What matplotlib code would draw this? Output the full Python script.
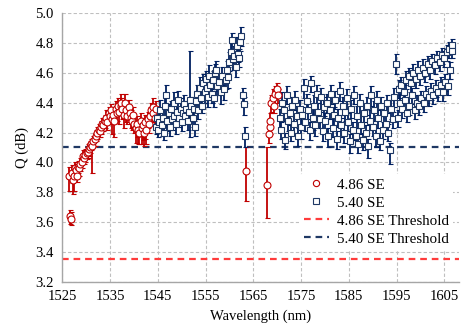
import matplotlib
matplotlib.use("Agg")
import matplotlib.pyplot as plt
from matplotlib.lines import Line2D

plt.rcParams['font.family'] = ['Liberation Serif', 'DejaVu Serif']

# ---- data: 4.86 SE (red) ----
red_wl = [1526.5, 1526.7, 1526.8, 1527.0, 1527.2, 1527.4, 1527.6, 1527.9, 1528.1, 1528.3,
          1528.6, 1528.8, 1529.1, 1529.3, 1529.6, 1529.8, 1530.1, 1530.3, 1530.6, 1530.8,
          1531.0, 1531.3, 1531.5, 1531.8, 1532.0, 1532.3, 1532.6, 1532.9, 1533.1, 1533.4,
          1533.6, 1533.9, 1534.2, 1534.4, 1534.7, 1534.9, 1535.2, 1535.4, 1535.7, 1535.9,
          1536.2, 1536.4, 1536.7, 1536.9, 1537.2, 1537.4, 1537.6, 1537.9, 1538.1, 1538.4,
          1538.6, 1538.9, 1539.1, 1539.4, 1539.6, 1539.9, 1540.1, 1540.4, 1540.6, 1540.9,
          1541.1, 1541.4, 1541.6, 1541.9, 1542.1, 1542.4, 1542.6, 1542.9, 1543.1, 1543.4,
          1543.6, 1543.9, 1544.1, 1544.4, 1544.6,
          1563.5, 1567.9, 1568.2, 1568.4, 1568.6, 1568.8, 1569.1, 1569.4, 1569.6, 1569.9, 1570.1]
red_q = [3.91, 3.64, 3.62, 3.93, 3.88, 3.91, 3.96, 3.95, 3.91, 3.97,
         3.96, 3.99, 4.00, 4.04, 4.03, 4.05, 4.06, 4.07, 4.09, 4.10,
         4.12, 4.11, 4.14, 4.16, 4.18, 4.20, 4.22, 4.21, 4.24, 4.26,
         4.25, 4.28, 4.30, 4.27, 4.33, 4.31, 4.35, 4.29, 4.32, 4.28,
         4.36, 4.33, 4.38, 4.34, 4.38, 4.40, 4.36, 4.32, 4.40, 4.35,
         4.31, 4.37, 4.33, 4.30, 4.28, 4.32, 4.26, 4.23, 4.26, 4.22,
         4.20, 4.28, 4.23, 4.25, 4.20, 4.27, 4.22, 4.29, 4.26, 4.31,
         4.35, 4.37, 4.33, 4.30, 4.36,
         3.94, 3.85, 4.19, 4.24, 4.28, 4.40, 4.43, 4.38, 4.46, 4.49, 4.45]
red_up = [0.06, 0.04, 0.05, 0.05, 0.06, 0.05, 0.04, 0.04, 0.05, 0.04,
          0.04, 0.04, 0.04, 0.04, 0.04, 0.04, 0.04, 0.05, 0.04, 0.04,
          0.04, 0.05, 0.04, 0.04, 0.04, 0.04, 0.04, 0.04, 0.04, 0.04,
          0.05, 0.04, 0.05, 0.04, 0.04, 0.04, 0.04, 0.05, 0.05, 0.05,
          0.05, 0.04, 0.05, 0.05, 0.05, 0.06, 0.05, 0.06, 0.06, 0.05,
          0.05, 0.05, 0.04, 0.05, 0.04, 0.05, 0.05, 0.05, 0.05, 0.06,
          0.07, 0.05, 0.06, 0.05, 0.06, 0.05, 0.05, 0.05, 0.06, 0.06,
          0.05, 0.06, 0.05, 0.05, 0.05,
          0.16, 0.25, 0.05, 0.05, 0.05, 0.05, 0.06, 0.05, 0.05, 0.04, 0.04]
red_dn = [0.10, 0.05, 0.04, 0.07, 0.09, 0.10, 0.05, 0.05, 0.04, 0.04,
          0.05, 0.05, 0.04, 0.04, 0.04, 0.05, 0.04, 0.04, 0.05, 0.04,
          0.04, 0.18, 0.04, 0.05, 0.04, 0.04, 0.05, 0.04, 0.05, 0.05,
          0.04, 0.05, 0.04, 0.05, 0.05, 0.05, 0.05, 0.10, 0.05, 0.11,
          0.04, 0.05, 0.06, 0.08, 0.05, 0.07, 0.07, 0.09, 0.06, 0.08,
          0.05, 0.06, 0.05, 0.07, 0.06, 0.07, 0.06, 0.10, 0.09, 0.10,
          0.08, 0.10, 0.11, 0.10, 0.09, 0.11, 0.10, 0.06, 0.06, 0.05,
          0.05, 0.05, 0.06, 0.06, 0.06,
          0.20, 0.22, 0.06, 0.05, 0.05, 0.06, 0.05, 0.05, 0.06, 0.05, 0.05]

# ---- data: 5.40 SE (blue) ----
blue_wl = [1544.6, 1544.8, 1545.0, 1545.3, 1545.5, 1545.8, 1546.0, 1546.3, 1546.5, 1546.8,
           1547.0, 1547.3, 1547.5, 1547.8, 1548.0, 1548.3, 1548.5, 1548.8, 1549.0, 1549.3,
           1549.5, 1549.8, 1550.0, 1550.3, 1550.5, 1550.8, 1551.0, 1551.3, 1551.5, 1551.8,
           1552.0, 1552.3, 1552.5, 1552.8, 1553.0, 1553.3, 1553.5, 1553.8, 1554.0, 1554.3,
           1554.5, 1554.8, 1555.0, 1555.3, 1555.5, 1555.8, 1556.0, 1556.3, 1556.5, 1556.8,
           1557.0, 1557.2, 1557.5, 1557.9, 1558.2, 1558.5, 1558.9, 1559.2, 1559.5, 1559.8,
           1560.0, 1560.3, 1560.5, 1560.8, 1561.0, 1561.3, 1561.6, 1561.8, 1562.0, 1562.2,
           1562.4, 1562.8, 1563.1, 1563.3,
           1570.5, 1570.8, 1571.1, 1571.4, 1571.7, 1572.0, 1572.3, 1572.6, 1572.9, 1573.2,
           1573.5, 1573.8, 1574.1, 1574.4, 1574.7, 1575.0, 1575.3, 1575.6, 1575.9, 1576.2,
           1576.5, 1576.8, 1577.1, 1577.4, 1577.7, 1578.0, 1578.3, 1578.6, 1578.9, 1579.2,
           1579.5, 1579.8, 1580.1, 1580.4, 1580.7, 1581.0, 1581.3, 1581.6, 1581.9, 1582.2,
           1582.5, 1582.8, 1583.1, 1583.4, 1583.7, 1584.0, 1584.3, 1584.6, 1584.9, 1585.2,
           1585.5, 1585.8, 1586.1, 1586.4, 1586.7, 1587.0, 1587.3, 1587.6, 1587.9, 1588.2,
           1588.5, 1588.8, 1589.1, 1589.4, 1589.7, 1590.0, 1590.3, 1590.6, 1590.9, 1591.2,
           1591.5, 1591.8, 1592.1, 1592.4, 1592.7, 1593.0, 1593.3, 1593.6, 1593.9, 1594.2,
           1594.5, 1594.8,
           1595.2, 1595.5, 1595.7, 1596.0, 1596.2, 1596.5, 1596.8, 1597.0, 1597.2, 1597.5,
           1597.7, 1598.0, 1598.2, 1598.5, 1598.8, 1599.0, 1599.2, 1599.5, 1599.7, 1600.0,
           1600.2, 1600.5, 1600.7, 1601.0, 1601.2, 1601.5, 1601.7, 1602.0, 1602.2, 1602.5,
           1602.7, 1603.0, 1603.2, 1603.5, 1603.7, 1604.0, 1604.2, 1604.5, 1604.7, 1605.0,
           1605.2, 1605.5, 1605.7, 1606.0, 1606.1, 1606.5, 1606.7]
blue_q = [4.24, 4.30, 4.22, 4.27, 4.35, 4.25, 4.30, 4.20, 4.38, 4.45,
          4.28, 4.33, 4.24, 4.36, 4.29, 4.40, 4.31, 4.26, 4.34, 4.42,
          4.30, 4.36, 4.27, 4.33, 4.39, 4.31, 4.36, 4.28, 4.34, 4.42,
          4.38, 4.30, 4.36, 4.24, 4.41, 4.46, 4.35, 4.50, 4.43, 4.38,
          4.53, 4.47, 4.56, 4.50, 4.44, 4.58, 4.52, 4.46, 4.55, 4.43,
          4.60, 4.62, 4.51, 4.54, 4.47, 4.58, 4.49, 4.55, 4.62, 4.57,
          4.67, 4.74, 4.82, 4.69, 4.71, 4.64, 4.78, 4.73, 4.70, 4.81,
          4.85, 4.45, 4.39, 4.18,
          4.30, 4.22, 4.40, 4.35, 4.15, 4.45, 4.28, 4.33, 4.20, 4.38,
          4.26, 4.42, 4.31, 4.18, 4.36, 4.24, 4.32, 4.50, 4.27, 4.41,
          4.35, 4.22, 4.53, 4.30, 4.38, 4.25, 4.46, 4.34, 4.29, 4.44,
          4.21, 4.37, 4.28, 4.40, 4.18, 4.35, 4.46, 4.23, 4.32, 4.42,
          4.16, 4.30, 4.48, 4.25, 4.38, 4.20, 4.34, 4.43, 4.27, 4.14,
          4.36, 4.22, 4.45, 4.18, 4.31, 4.12, 4.40, 4.25, 4.15, 4.33,
          4.20, 4.38, 4.11, 4.28, 4.45, 4.24, 4.35, 4.18, 4.42, 4.30,
          4.14, 4.38, 4.22, 4.33, 4.26, 4.40, 4.20, 4.08, 4.36, 4.29,
          4.44, 4.66,
          4.30, 4.49, 4.40, 4.52, 4.36, 4.47, 4.42, 4.55, 4.33, 4.58,
          4.38, 4.53, 4.45, 4.60, 4.35, 4.56, 4.40, 4.62, 4.38, 4.58,
          4.43, 4.63, 4.40, 4.60, 4.46, 4.66, 4.44, 4.62, 4.48, 4.68,
          4.45, 4.65, 4.50, 4.70, 4.47, 4.67, 4.52, 4.72, 4.47, 4.70,
          4.54, 4.74, 4.51, 4.76, 4.62, 4.79, 4.75]
blue_up = [0.05, 0.05, 0.05, 0.06, 0.07, 0.05, 0.06, 0.05, 0.06, 0.07,
           0.05, 0.06, 0.06, 0.05, 0.06, 0.07, 0.05, 0.06, 0.06, 0.06,
           0.05, 0.07, 0.06, 0.05, 0.06, 0.06, 0.05, 0.06, 0.06, 0.33,
           0.06, 0.07, 0.06, 0.05, 0.07, 0.06, 0.05, 0.07, 0.06, 0.05,
           0.06, 0.06, 0.05, 0.06, 0.05, 0.07, 0.06, 0.05, 0.06, 0.05,
           0.06, 0.06, 0.07, 0.05, 0.07, 0.06, 0.06, 0.06, 0.06, 0.07,
           0.07, 0.06, 0.05, 0.06, 0.07, 0.06, 0.06, 0.06, 0.06, 0.05,
           0.06, 0.05, 0.05, 0.06,
           0.06, 0.05, 0.07, 0.06, 0.05, 0.06, 0.07, 0.05, 0.06, 0.06,
           0.05, 0.06, 0.07, 0.05, 0.06, 0.06, 0.05, 0.06, 0.07, 0.05,
           0.06, 0.05, 0.05, 0.06, 0.07, 0.05, 0.06, 0.06, 0.05, 0.06,
           0.06, 0.07, 0.05, 0.06, 0.05, 0.06, 0.06, 0.07, 0.05, 0.06,
           0.05, 0.06, 0.06, 0.05, 0.06, 0.07, 0.05, 0.06, 0.06, 0.05,
           0.06, 0.05, 0.06, 0.05, 0.07, 0.05, 0.06, 0.06, 0.05, 0.06,
           0.05, 0.06, 0.05, 0.07, 0.06, 0.05, 0.06, 0.05, 0.06, 0.05,
           0.06, 0.06, 0.05, 0.06, 0.07, 0.05, 0.06, 0.05, 0.06, 0.05,
           0.06, 0.07,
           0.05, 0.06, 0.05, 0.05, 0.06, 0.05, 0.05, 0.06, 0.05, 0.05,
           0.06, 0.05, 0.05, 0.06, 0.05, 0.05, 0.05, 0.06, 0.05, 0.05,
           0.05, 0.06, 0.05, 0.05, 0.05, 0.05, 0.05, 0.05, 0.05, 0.05,
           0.05, 0.05, 0.05, 0.05, 0.05, 0.05, 0.05, 0.05, 0.05, 0.05,
           0.05, 0.05, 0.05, 0.05, 0.05, 0.04, 0.04]
blue_dn = [0.05, 0.06, 0.05, 0.05, 0.06, 0.07, 0.06, 0.05, 0.06, 0.08,
           0.07, 0.06, 0.06, 0.05, 0.07, 0.06, 0.06, 0.07, 0.05, 0.06,
           0.06, 0.06, 0.06, 0.07, 0.06, 0.05, 0.07, 0.06, 0.06, 0.25,
           0.07, 0.06, 0.08, 0.06, 0.06, 0.07, 0.06, 0.06, 0.07, 0.05,
           0.06, 0.07, 0.06, 0.06, 0.07, 0.06, 0.07, 0.06, 0.06, 0.06,
           0.07, 0.07, 0.06, 0.06, 0.08, 0.06, 0.07, 0.06, 0.06, 0.07,
           0.06, 0.07, 0.07, 0.07, 0.08, 0.07, 0.07, 0.06, 0.06, 0.06,
           0.07, 0.07, 0.07, 0.08,
           0.07, 0.06, 0.06, 0.07, 0.06, 0.06, 0.07, 0.08, 0.06, 0.07,
           0.06, 0.07, 0.06, 0.07, 0.06, 0.08, 0.06, 0.07, 0.06, 0.07,
           0.06, 0.07, 0.06, 0.08, 0.06, 0.07, 0.06, 0.07, 0.06, 0.08,
           0.07, 0.06, 0.07, 0.06, 0.08, 0.06, 0.07, 0.06, 0.07, 0.06,
           0.07, 0.06, 0.07, 0.08, 0.06, 0.07, 0.06, 0.07, 0.06, 0.08,
           0.06, 0.07, 0.06, 0.07, 0.08, 0.06, 0.07, 0.06, 0.07, 0.06,
           0.07, 0.06, 0.08, 0.06, 0.07, 0.06, 0.07, 0.08, 0.06, 0.07,
           0.06, 0.07, 0.06, 0.08, 0.06, 0.07, 0.06, 0.09, 0.07, 0.06,
           0.07, 0.07,
           0.06, 0.06, 0.06, 0.06, 0.06, 0.06, 0.06, 0.06, 0.06, 0.06,
           0.06, 0.06, 0.06, 0.06, 0.06, 0.06, 0.06, 0.06, 0.06, 0.06,
           0.06, 0.06, 0.06, 0.06, 0.06, 0.06, 0.06, 0.06, 0.06, 0.06,
           0.06, 0.06, 0.06, 0.06, 0.06, 0.06, 0.06, 0.06, 0.06, 0.06,
           0.06, 0.06, 0.06, 0.06, 0.06, 0.05, 0.05]

thr_red = 3.35
thr_blue = 4.10

x_ticks = [1525, 1535, 1545, 1555, 1565, 1575, 1585, 1595, 1605]
y_ticks = [3.2, 3.4, 3.6, 3.8, 4.0, 4.2, 4.4, 4.6, 4.8, 5.0]

RED = '#C00000'
NAVY = '#002060'
RED_THR = '#FF3B3B'
NAVY_THR = '#1F3864'

fig = plt.figure(figsize=(4.61, 3.31), dpi=100)
ax = fig.add_axes([0.135, 0.149, 0.86, 0.811])

ax.axhline(thr_red, color=RED_THR, lw=1.6, dashes=(3, 2.2), zorder=2)
ax.axhline(thr_blue, color=NAVY_THR, lw=1.6, dashes=(3, 2.2), zorder=2)

ax.errorbar(red_wl, red_q, yerr=[red_dn, red_up], fmt='o', ms=5, mfc='white',
            mec=RED, mew=0.8, ecolor=RED, elinewidth=1.3, capsize=1.8, capthick=1.3, zorder=3)
ax.errorbar(blue_wl, blue_q, yerr=[blue_dn, blue_up], fmt='s', ms=5, mfc='white',
            mec=NAVY_THR, mew=0.8, ecolor=NAVY, elinewidth=1.3, capsize=1.8, capthick=1.3, zorder=3)

ax.set_xlim(1525, 1608)
ax.set_ylim(3.2, 5.0)
ax.set_xticks(x_ticks)
ax.set_yticks(y_ticks)
ax.set_yticklabels([f'{v:.1f}' for v in y_ticks])
ax.tick_params(length=0, labelsize=10.5, pad=6)
ax.grid(True, color='#BFBFBF', ls=(0, (3, 2)), lw=0.8, zorder=0)
for s in ['top', 'right']:
    ax.spines[s].set_visible(False)
for s in ['left', 'bottom']:
    ax.spines[s].set_color('#A6A6A6')
    ax.spines[s].set_linewidth(1.0)

ax.set_xlabel('Wavelength (nm)', fontsize=10.5, labelpad=5)
ax.set_ylabel('Q (dB)', fontsize=10.5, labelpad=5)

handles = [
    Line2D([], [], ls='none', marker='o', ms=4.5, mfc='white', mec=RED, mew=0.8),
    Line2D([], [], ls='none', marker='s', ms=4.5, mfc='white', mec=NAVY_THR, mew=0.8),
    Line2D([], [], color=RED_THR, lw=1.6, dashes=(3, 2.2)),
    Line2D([], [], color=NAVY_THR, lw=1.6, dashes=(3, 2.2)),
]
labels = ['4.86 SE', '5.40 SE', '4.86 SE Threshold', '5.40 SE Threshold']
leg = ax.legend(handles, labels, loc='lower right', bbox_to_anchor=(1.005, 0.09),
                frameon=True, framealpha=1, edgecolor='none', fontsize=10.8,
                handlelength=1.7, handletextpad=0.5, labelspacing=0.3, borderpad=0.3)
leg.set_zorder(5)

fig.savefig('out.png', dpi=100)
